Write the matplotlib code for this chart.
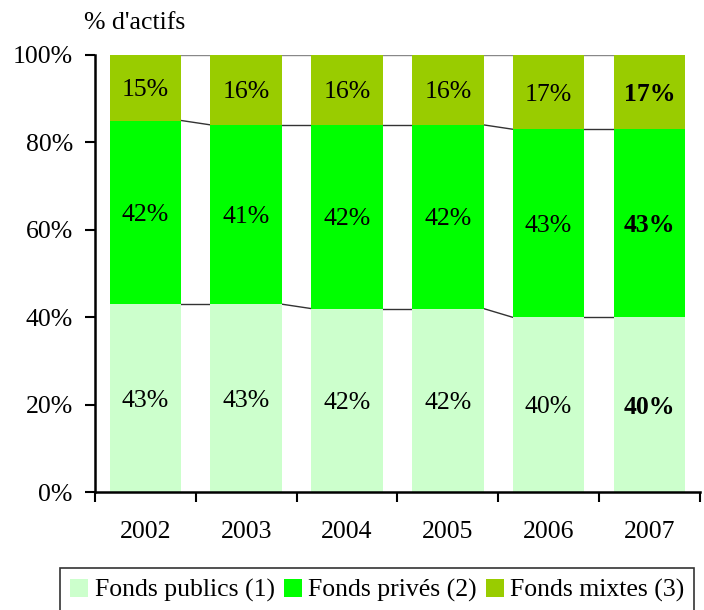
import numpy as np
import matplotlib
matplotlib.use("Agg")
import matplotlib.pyplot as plt
from matplotlib.patches import Patch

plt.rcParams['font.family'] = ['Liberation Serif', 'DejaVu Serif']

years = ['2002', '2003', '2004', '2005', '2006', '2007']
publics = [43, 43, 42, 42, 40, 40]
prives = [42, 41, 42, 42, 43, 43]
mixtes = [15, 16, 16, 16, 17, 17]

series = [
    ('Fonds publics (1)', publics, '#CCFFCC'),
    ('Fonds privés (2)', prives, '#00FF00'),
    ('Fonds mixtes (3)', mixtes, '#99CC00'),
]

BAR_W = 0.71
FS = 18.5

fig = plt.figure(figsize=(7.04, 6.10), dpi=100)
ax = fig.add_axes([0.135, 0.193, 0.859, 0.717])

x = np.arange(len(years))
bottom = np.zeros(len(years))
for name, vals, color in series:
    vals = np.array(vals, dtype=float)
    ax.bar(x, vals, BAR_W, bottom=bottom, color=color, edgecolor='none', zorder=2)
    for i, v in enumerate(vals):
        last = i == len(years) - 1
        ax.text(x[i], bottom[i] + v / 2, f"{int(v)}%", ha='center', va='center_baseline',
                fontsize=FS, fontweight='bold' if last else 'normal', zorder=3)
    bottom = bottom + vals
    # series lines between bars
    for i in range(len(years) - 1):
        ax.plot([x[i] + BAR_W / 2, x[i + 1] - BAR_W / 2], [bottom[i], bottom[i + 1]],
                color='#333333' if bottom[i] < 100 else '#888888', lw=1.0, zorder=1)

ax.set_xlim(-0.5, len(years) - 0.5)
ax.set_ylim(0, 100)
ax.set_yticks(np.arange(0, 101, 20))
ax.set_yticklabels([f"{v}%" for v in range(0, 101, 20)], fontsize=FS)
ax.set_xticks(np.arange(-0.5, len(years), 1.0))
ax.set_xticklabels([])
ax.set_xticks(x, minor=True)
ax.set_xticklabels(years, minor=True, fontsize=FS)
ax.tick_params(axis='x', which='minor', length=0, pad=21)
ax.tick_params(axis='x', which='major', direction='out', length=7, width=1.5)
ax.tick_params(axis='y', direction='out', length=7, width=1.5, pad=9)

for s in ['top', 'right']:
    ax.spines[s].set_visible(False)
for s in ['left', 'bottom']:
    ax.spines[s].set_linewidth(1.8)

fig.text(0.12, 0.963, "% d'actifs", fontsize=FS, ha='left', va='center')

handles = [Patch(facecolor=c, edgecolor='none', label=n) for n, _, c in series]
leg = fig.legend(handles=handles, loc='lower left', bbox_to_anchor=(0.085, -0.004),
                 ncol=3, fontsize=18.5, frameon=True, fancybox=False,
                 handlelength=0.7, handleheight=0.7, handletextpad=0.25,
                 columnspacing=0.35, borderpad=0.4, borderaxespad=0)
leg.get_frame().set_edgecolor('black')
leg.get_frame().set_linewidth(1.2)

fig.savefig('out.png', dpi=100)
